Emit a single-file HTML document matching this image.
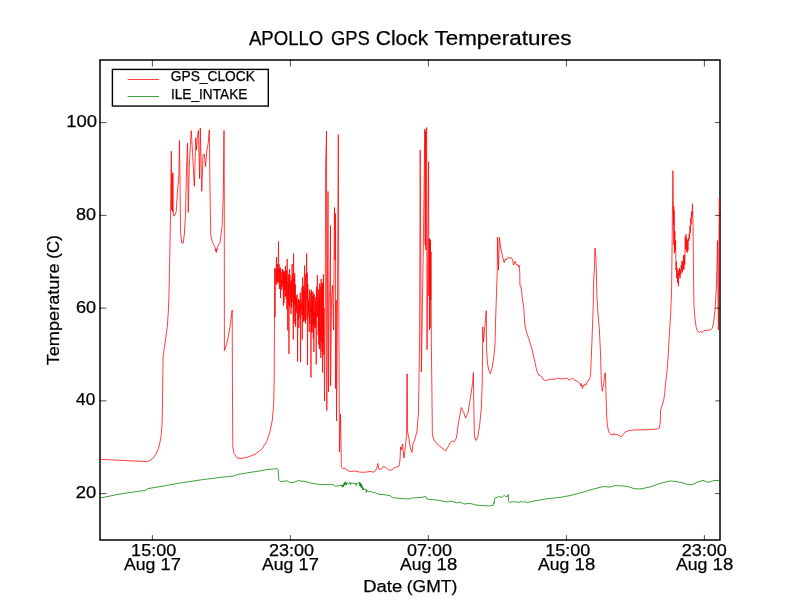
<!DOCTYPE html>
<html><head><meta charset="utf-8">
<style>
html,body{margin:0;padding:0;background:#fff;}
body{width:800px;height:600px;overflow:hidden;font-family:"Liberation Sans",sans-serif;}
svg{display:block;will-change:transform}
text{font-family:"Liberation Sans",sans-serif;fill:#000;stroke:#000;stroke-width:0.25px}
</style></head><body>
<svg width="800" height="600" viewBox="0 0 800 600">
<defs><clipPath id="ax"><rect x="100" y="60" width="620" height="480"/></clipPath></defs>
<rect x="0" y="0" width="800" height="600" fill="#fff"/>
<rect x="100" y="60" width="620" height="480" fill="none" stroke="#000" stroke-width="1.5"/>
<g fill="none" stroke-linejoin="round" stroke-width="0.75" clip-path="url(#ax)">
<polyline id="red" stroke="#ff0000" points="100.00,459.40 115.00,460.00 130.00,460.80 146.70,461.60 150.00,460.50 153.50,457.50 156.00,454.00 158.30,449.00 160.00,442.00 161.00,436.70 162.00,425.00 162.40,410.00 162.70,386.70 163.10,357.00 164.00,350.00 165.20,342.00 167.30,326.70 168.30,312.00 168.80,300.00 169.30,280.00 169.90,250.00 170.50,215.00 171.00,175.00 171.30,151.25 171.70,210.00 172.10,173.75 172.50,212.00 172.90,172.50 173.30,214.00 173.75,216.25 175.00,215.00 176.25,211.25 177.50,190.00 178.75,177.50 179.50,140.50 180.00,177.50 180.50,232.50 181.75,243.00 183.25,243.00 184.25,235.00 185.50,215.00 186.50,170.00 187.50,143.00 188.25,212.50 189.25,167.50 190.25,147.50 191.25,130.50 192.50,152.50 194.30,186.25 195.75,138.00 196.50,150.00 197.30,137.00 198.40,130.50 199.60,178.50 200.30,128.00 201.75,191.25 203.00,155.00 204.30,154.00 205.50,166.50 207.00,150.00 208.20,143.00 209.30,130.00 210.00,190.00 210.75,235.00 212.50,242.50 214.50,246.00 215.20,248.00 215.60,250.50 215.90,249.00 216.25,252.50 216.70,249.00 217.00,250.00 217.30,247.50 218.00,246.00 220.00,242.50 222.00,227.50 223.25,197.50 224.00,130.50 224.30,200.00 224.40,350.70 227.30,341.70 230.00,326.70 232.20,310.00 232.50,400.00 232.80,446.70 234.00,453.30 236.70,457.70 240.00,458.50 246.70,457.50 255.00,454.30 261.70,449.30 266.70,441.70 270.00,431.70 272.30,420.00 273.70,403.30 274.20,380.00 274.50,316.70 274.70,290.00 274.80,268.00 275.00,317.00 275.30,270.00 275.60,269.40 275.89,283.80 276.18,271.00 276.47,257.00 276.76,284.80 277.05,268.50 277.34,282.30 277.63,263.90 277.92,280.60 278.21,262.70 278.50,241.50 278.79,282.70 279.08,264.50 279.37,288.90 279.66,269.30 279.95,281.00 280.24,267.50 280.53,298.00 280.82,269.10 281.11,287.80 281.40,280.20 281.69,289.90 281.98,272.00 282.27,283.10 282.56,269.20 282.85,286.60 283.14,271.70 283.43,306.00 283.72,270.60 284.01,302.90 284.30,272.70 284.59,290.30 284.88,271.20 285.17,296.50 285.46,266.00 285.75,296.00 286.04,273.90 286.33,298.90 286.62,270.30 286.91,309.30 287.20,259.00 287.49,308.10 287.78,330.50 288.07,281.20 288.36,305.10 288.65,274.40 288.94,354.00 289.23,280.20 289.52,269.00 289.81,307.00 290.10,275.20 290.39,298.40 290.68,283.60 290.97,313.80 291.26,280.40 291.55,307.60 291.84,288.80 292.13,264.00 292.42,302.40 292.71,273.80 293.00,294.10 293.29,339.50 293.58,253.50 293.87,321.90 294.16,277.60 294.45,304.40 294.74,273.20 295.03,324.00 295.32,284.50 295.61,326.60 295.90,295.80 296.19,313.20 296.48,297.90 296.77,311.10 297.06,294.50 297.35,316.10 297.64,361.50 297.93,300.50 298.22,319.60 298.51,299.10 298.80,328.00 299.09,307.20 299.38,312.50 299.67,300.20 299.96,317.60 300.25,292.50 300.54,362.00 300.83,299.40 301.12,314.60 301.41,304.10 301.70,308.40 301.99,287.40 302.28,339.50 302.57,277.50 302.86,316.00 303.15,291.40 303.44,321.80 303.73,285.50 304.02,319.60 304.31,278.20 304.60,265.50 304.89,321.40 305.18,289.00 305.47,323.50 305.76,274.20 306.05,319.50 306.34,277.50 306.63,253.50 306.92,300.30 307.21,272.50 307.50,365.00 307.79,284.20 308.08,316.60 308.37,300.30 308.66,310.80 308.95,301.60 309.24,332.00 309.53,289.70 309.82,324.00 310.11,292.30 310.40,311.90 310.69,307.30 310.98,377.50 311.27,289.60 311.56,332.40 311.85,291.00 312.14,332.30 312.43,296.10 312.72,324.00 313.01,292.00 313.30,338.70 313.59,295.00 313.88,352.00 314.17,293.90 314.46,327.50 314.75,310.90 315.04,324.30 315.33,297.40 315.62,327.70 315.91,302.20 316.20,364.50 316.49,286.90 316.78,316.60 317.07,303.50 317.36,275.00 317.65,316.40 317.94,302.30 318.23,335.10 318.52,289.60 318.81,344.50 319.10,297.30 319.39,349.00 319.68,283.60 319.97,347.20 320.26,286.30 320.55,345.90 320.84,358.00 321.13,279.00 321.42,341.70 321.71,283.40 322.00,352.00 322.29,284.10 322.58,372.50 322.87,282.60 323.16,343.50 323.45,274.50 323.74,355.10 324.03,308.00 324.50,401.00 325.30,300.00 325.60,166.00 326.50,131.00 326.80,410.50 327.40,300.00 328.00,191.50 328.50,392.00 329.20,300.00 329.80,290.00 330.50,225.50 330.60,386.00 331.50,300.00 332.50,285.00 333.50,330.00 334.50,207.50 335.00,260.00 335.50,213.50 335.60,388.50 336.20,300.00 336.50,421.00 337.50,300.00 338.30,134.50 339.00,350.00 339.50,452.00 340.50,414.00 341.00,440.00 341.30,467.00 343.00,468.80 345.00,468.20 347.00,470.00 350.00,471.50 355.00,471.00 360.00,472.20 365.00,472.20 370.00,471.50 374.00,472.20 376.50,469.00 377.80,463.50 379.00,469.20 381.50,469.20 383.50,466.30 386.00,467.50 388.50,470.00 392.00,470.00 394.00,467.80 399.00,466.20 400.00,460.00 400.60,447.00 401.40,450.00 402.40,444.00 404.00,458.00 405.60,444.00 406.60,435.00 406.90,374.00 407.30,374.00 407.60,432.00 409.00,439.00 410.40,448.00 412.00,452.40 413.00,444.00 415.00,439.00 417.00,431.00 418.40,414.00 419.00,380.00 419.60,340.00 420.20,150.00 421.40,372.00 423.40,240.00 424.80,129.00 425.15,245.00 425.50,131.00 425.90,250.00 426.30,128.50 426.70,127.60 427.00,349.60 428.60,161.60 428.90,296.00 429.20,238.00 429.50,330.00 429.80,239.00 430.10,328.00 430.40,240.00 430.70,300.00 431.00,252.00 431.30,340.00 431.60,365.00 432.00,400.00 432.40,435.00 434.00,440.00 437.00,444.00 442.00,448.00 445.60,451.00 448.00,447.00 450.40,442.40 452.40,441.00 454.40,441.60 456.40,438.00 458.00,426.00 458.75,421.25 461.25,407.50 463.75,412.50 465.60,418.10 468.10,412.50 470.60,396.25 472.50,383.75 473.40,372.50 473.75,402.50 474.40,435.00 475.60,440.50 477.50,438.00 479.40,427.50 481.25,408.75 482.25,383.75 482.75,326.90 483.50,341.90 486.25,310.60 486.50,348.75 487.50,363.75 488.75,370.00 490.25,373.75 491.90,368.75 493.75,357.50 495.00,345.00 495.60,320.00 496.40,297.00 497.25,271.25 497.50,237.00 498.50,270.00 499.40,237.50 500.60,247.00 502.50,256.25 504.10,262.50 505.60,258.75 506.25,260.00 508.10,257.25 510.00,258.10 511.50,257.75 512.50,260.00 513.50,265.00 515.00,261.25 516.25,265.00 517.50,264.40 518.50,266.90 519.10,265.00 519.75,272.50 520.00,286.25 521.00,286.25 521.50,290.00 522.30,298.00 523.10,303.75 523.75,307.50 524.75,323.75 526.25,331.25 528.75,338.75 531.90,348.75 535.00,362.50 536.60,370.00 537.50,372.50 538.75,375.00 540.00,375.60 541.90,376.90 543.10,379.40 545.60,380.60 548.75,379.40 556.25,379.00 557.50,378.10 562.50,379.00 566.90,378.10 569.40,380.25 572.50,378.10 574.40,380.00 578.10,381.90 580.00,383.75 580.60,385.60 581.30,383.50 582.25,388.50 583.10,385.00 584.00,386.25 585.00,383.75 586.25,384.75 587.50,381.25 588.75,380.60 590.00,377.50 590.60,373.75 591.90,342.50 593.10,310.00 593.75,277.50 594.40,268.75 595.00,248.10 596.00,258.75 596.50,277.50 596.90,296.25 598.10,315.00 599.40,330.00 600.60,355.00 601.25,380.00 602.25,391.25 603.75,383.75 604.75,373.10 605.40,373.00 605.90,390.00 606.60,415.00 607.50,426.25 608.75,431.90 610.60,434.40 613.10,435.00 613.75,433.50 615.00,434.40 617.50,434.75 620.60,436.50 621.90,436.25 625.00,432.20 628.75,430.60 633.75,430.00 645.00,429.75 657.50,429.00 659.40,428.10 660.25,422.50 660.60,410.00 661.90,406.25 663.75,400.00 664.75,392.50 665.60,382.50 666.90,372.50 668.10,357.00 669.40,333.75 670.60,315.00 671.60,290.00 672.25,230.00 672.90,170.60 673.30,200.00 673.60,225.00 673.75,206.25 673.90,245.00 674.00,210.70 674.40,253.20 674.80,231.20 675.20,250.60 675.60,240.40 676.00,270.40 676.40,261.60 676.80,278.20 677.20,268.60 677.60,282.50 678.00,273.00 678.40,286.20 678.80,270.00 679.20,275.80 679.60,267.90 680.00,278.50 680.40,270.10 680.80,274.30 681.20,265.00 681.60,270.90 682.00,260.60 682.40,272.50 682.80,261.70 683.20,269.70 683.60,255.20 684.00,269.40 684.40,255.00 684.80,264.50 685.20,236.60 685.60,248.90 686.00,234.20 686.40,251.50 686.80,238.30 687.20,252.60 687.60,240.40 688.00,250.40 688.40,238.40 688.80,240.90 689.20,233.40 689.60,238.70 690.00,225.60 690.40,232.80 690.80,217.90 691.20,224.50 691.60,211.50 692.00,217.40 692.40,207.10 692.50,203.75 693.10,225.00 693.50,275.00 694.00,306.25 695.00,318.75 696.25,327.50 697.50,331.25 699.40,332.50 700.60,331.25 701.90,332.75 703.75,330.60 707.50,330.25 710.60,329.75 712.50,328.10 713.75,321.25 715.00,310.00 716.25,290.00 716.90,270.00 717.50,240.60 718.00,300.00 718.40,330.00 718.90,250.00 719.40,198.00 719.80,260.00 720.50,300.00"/>
<polyline id="green" stroke="#008000" points="100.00,498.00 120.00,494.00 140.00,491.00 145.00,490.60 148.00,488.60 160.00,486.60 180.00,483.00 200.00,480.00 220.00,477.40 234.00,476.00 237.00,474.60 250.00,472.40 262.00,470.60 268.00,469.40 277.30,468.70 278.20,469.50 278.80,480.20 280.00,481.40 284.80,481.30 286.30,480.50 289.60,482.50 293.80,482.50 298.60,480.50 301.00,481.10 305.20,481.40 310.00,482.90 320.00,484.60 332.00,484.30 333.80,485.20 335.60,486.40 338.00,485.80 340.40,485.50 341.90,484.90 342.20,487.00 342.60,485.00 343.00,487.20 343.50,484.20 343.90,486.20 344.30,483.00 344.70,485.00 345.20,481.60 345.60,484.50 346.00,482.50 346.40,484.80 347.00,483.30 347.60,483.10 349.00,483.20 350.10,482.50 350.40,485.00 350.80,483.00 353.00,483.20 355.70,483.40 356.00,485.60 356.40,483.50 358.40,483.10 359.30,483.00 359.60,482.20 359.90,486.00 360.20,482.80 360.50,486.60 360.80,483.60 361.10,487.20 361.50,484.50 361.90,488.00 362.30,486.50 362.60,490.00 363.00,487.50 363.50,489.80 364.00,488.60 364.70,489.40 365.50,489.60 366.10,489.00 366.30,492.40 366.70,490.20 367.40,491.20 369.20,491.80 371.00,491.20 372.80,492.70 374.60,492.40 376.40,493.30 380.00,494.50 382.00,494.40 390.00,495.60 392.40,497.60 400.00,498.40 408.00,499.00 412.00,498.00 422.00,497.40 425.60,496.40 427.00,499.00 436.00,500.00 448.00,502.00 450.00,501.00 458.00,503.00 460.00,502.00 464.00,504.00 470.00,503.40 476.00,505.00 480.00,505.40 486.00,505.70 488.40,506.00 492.90,505.40 493.50,503.80 493.80,502.60 494.10,503.40 494.70,499.40 495.60,497.60 497.40,497.60 498.60,496.30 501.30,497.30 503.10,496.30 504.30,495.20 505.50,496.40 507.30,496.70 507.80,495.50 508.20,494.30 508.50,501.20 510.00,502.40 512.40,501.80 516.00,501.80 519.00,502.50 521.10,501.30 522.30,502.40 524.40,501.20 526.20,502.40 528.00,502.40 536.00,500.60 540.00,500.00 548.00,498.60 560.00,497.40 570.00,495.60 580.00,493.00 592.00,489.40 603.00,486.60 610.00,487.00 615.00,485.60 624.00,486.00 628.00,486.60 634.00,488.60 640.00,489.00 650.00,487.00 660.00,483.40 666.00,482.00 670.00,481.00 675.00,481.40 682.00,482.60 688.00,484.60 692.00,484.60 698.00,482.00 703.00,480.40 708.00,482.40 714.00,480.60 720.00,480.40"/>
</g>
<g stroke="#000" stroke-width="0.7">
<line x1="152.4" y1="540.7" x2="152.4" y2="535.1"/><line x1="152.4" y1="59.3" x2="152.4" y2="66.5"/>
<line x1="290.4" y1="540.7" x2="290.4" y2="535.1"/><line x1="290.4" y1="59.3" x2="290.4" y2="66.5"/>
<line x1="428.4" y1="540.7" x2="428.4" y2="535.1"/><line x1="428.4" y1="59.3" x2="428.4" y2="66.5"/>
<line x1="566.4" y1="540.7" x2="566.4" y2="535.1"/><line x1="566.4" y1="59.3" x2="566.4" y2="66.5"/>
<line x1="704.4" y1="540.7" x2="704.4" y2="535.1"/><line x1="704.4" y1="59.3" x2="704.4" y2="66.5"/>
<line x1="99.3" y1="122.62" x2="106.5" y2="122.62"/><line x1="720.7" y1="122.62" x2="715.1" y2="122.62"/>
<line x1="99.3" y1="215.38" x2="106.5" y2="215.38"/><line x1="720.7" y1="215.38" x2="715.1" y2="215.38"/>
<line x1="99.3" y1="308.12" x2="106.5" y2="308.12"/><line x1="720.7" y1="308.12" x2="715.1" y2="308.12"/>
<line x1="99.3" y1="400.88" x2="106.5" y2="400.88"/><line x1="720.7" y1="400.88" x2="715.1" y2="400.88"/>
<line x1="99.3" y1="493.62" x2="106.5" y2="493.62"/><line x1="720.7" y1="493.62" x2="715.1" y2="493.62"/>
</g>
<rect x="112.4" y="69.4" width="155.9" height="36.65" fill="#fff" stroke="#000" stroke-width="1.39"/>
<line x1="127.6" y1="79.5" x2="158.9" y2="79.5" stroke="#ff0000" stroke-width="0.75"/>
<line x1="127.6" y1="96.5" x2="158.9" y2="96.5" stroke="#008000" stroke-width="0.75"/>
<text id="t1" x="248.92" y="44.90" font-size="20.35" textLength="74.44" lengthAdjust="spacingAndGlyphs">APOLLO</text>
<text id="t2" x="331.00" y="44.90" font-size="20.35" textLength="38.86" lengthAdjust="spacingAndGlyphs">GPS</text>
<text id="t3" x="375.74" y="44.90" font-size="20.35" textLength="52.49" lengthAdjust="spacingAndGlyphs">Clock</text>
<text id="t4" x="434.49" y="44.90" font-size="20.35" textLength="137.07" lengthAdjust="spacingAndGlyphs">Temperatures</text>
<text id="xl1" x="363.15" y="592.00" font-size="16.86" textLength="39.05" lengthAdjust="spacingAndGlyphs">Date</text>
<text id="xl2" x="406.75" y="592.00" font-size="16.86" textLength="50.49" lengthAdjust="spacingAndGlyphs">(GMT)</text>
<text id="yl1" transform="translate(59.00,365.28) rotate(-90)" font-size="16.86" textLength="101.81" lengthAdjust="spacingAndGlyphs">Temperature</text>
<text id="yl2" transform="translate(59.00,258.66) rotate(-90)" font-size="16.86" textLength="23.52" lengthAdjust="spacingAndGlyphs">(C)</text>
<text id="y100" x="66.28" y="127.10" font-size="17.05" textLength="30.83" lengthAdjust="spacingAndGlyphs">100</text>
<text id="y80" x="75.96" y="220.00" font-size="17.05" textLength="20.04" lengthAdjust="spacingAndGlyphs">80</text>
<text id="y60" x="75.92" y="313.10" font-size="17.05" textLength="20.13" lengthAdjust="spacingAndGlyphs">60</text>
<text id="y40" x="76.04" y="404.90" font-size="17.05" textLength="19.21" lengthAdjust="spacingAndGlyphs">40</text>
<text id="y20" x="75.75" y="498.00" font-size="17.05" textLength="20.48" lengthAdjust="spacingAndGlyphs">20</text>
<text id="xa0" x="131.12" y="556.00" font-size="17.05" textLength="45.08" lengthAdjust="spacingAndGlyphs">15:00</text>
<text id="xb0" x="123.95" y="570.00" font-size="16.86" textLength="31.37" lengthAdjust="spacingAndGlyphs">Aug</text>
<text id="xc0" x="160.60" y="570.00" font-size="17.05" textLength="20.36" lengthAdjust="spacingAndGlyphs">17</text>
<text id="xa1" x="269.02" y="556.00" font-size="17.05" textLength="45.07" lengthAdjust="spacingAndGlyphs">23:00</text>
<text id="xb1" x="261.95" y="570.00" font-size="16.86" textLength="31.37" lengthAdjust="spacingAndGlyphs">Aug</text>
<text id="xc1" x="298.60" y="570.00" font-size="17.05" textLength="20.36" lengthAdjust="spacingAndGlyphs">17</text>
<text id="xa2" x="406.98" y="556.00" font-size="17.05" textLength="44.95" lengthAdjust="spacingAndGlyphs">07:00</text>
<text id="xb2" x="400.00" y="570.00" font-size="16.86" textLength="31.27" lengthAdjust="spacingAndGlyphs">Aug</text>
<text id="xc2" x="436.61" y="570.00" font-size="17.05" textLength="20.61" lengthAdjust="spacingAndGlyphs">18</text>
<text id="xa3" x="545.15" y="556.00" font-size="17.05" textLength="45.09" lengthAdjust="spacingAndGlyphs">15:00</text>
<text id="xb3" x="538.00" y="570.00" font-size="16.86" textLength="31.27" lengthAdjust="spacingAndGlyphs">Aug</text>
<text id="xc3" x="574.61" y="570.00" font-size="17.05" textLength="20.61" lengthAdjust="spacingAndGlyphs">18</text>
<text id="xa4" x="681.69" y="556.00" font-size="17.05" textLength="45.09" lengthAdjust="spacingAndGlyphs">23:00</text>
<text id="xb4" x="675.95" y="570.00" font-size="16.86" textLength="31.37" lengthAdjust="spacingAndGlyphs">Aug</text>
<text id="xc4" x="712.58" y="570.00" font-size="17.05" textLength="20.61" lengthAdjust="spacingAndGlyphs">18</text>
<text id="l1" x="170.77" y="80.90" font-size="14.1" textLength="84.20" lengthAdjust="spacingAndGlyphs">GPS_CLOCK</text>
<text id="l2" x="170.90" y="98.75" font-size="14.1" textLength="76.53" lengthAdjust="spacingAndGlyphs">ILE_INTAKE</text>
</svg>
</body></html>
